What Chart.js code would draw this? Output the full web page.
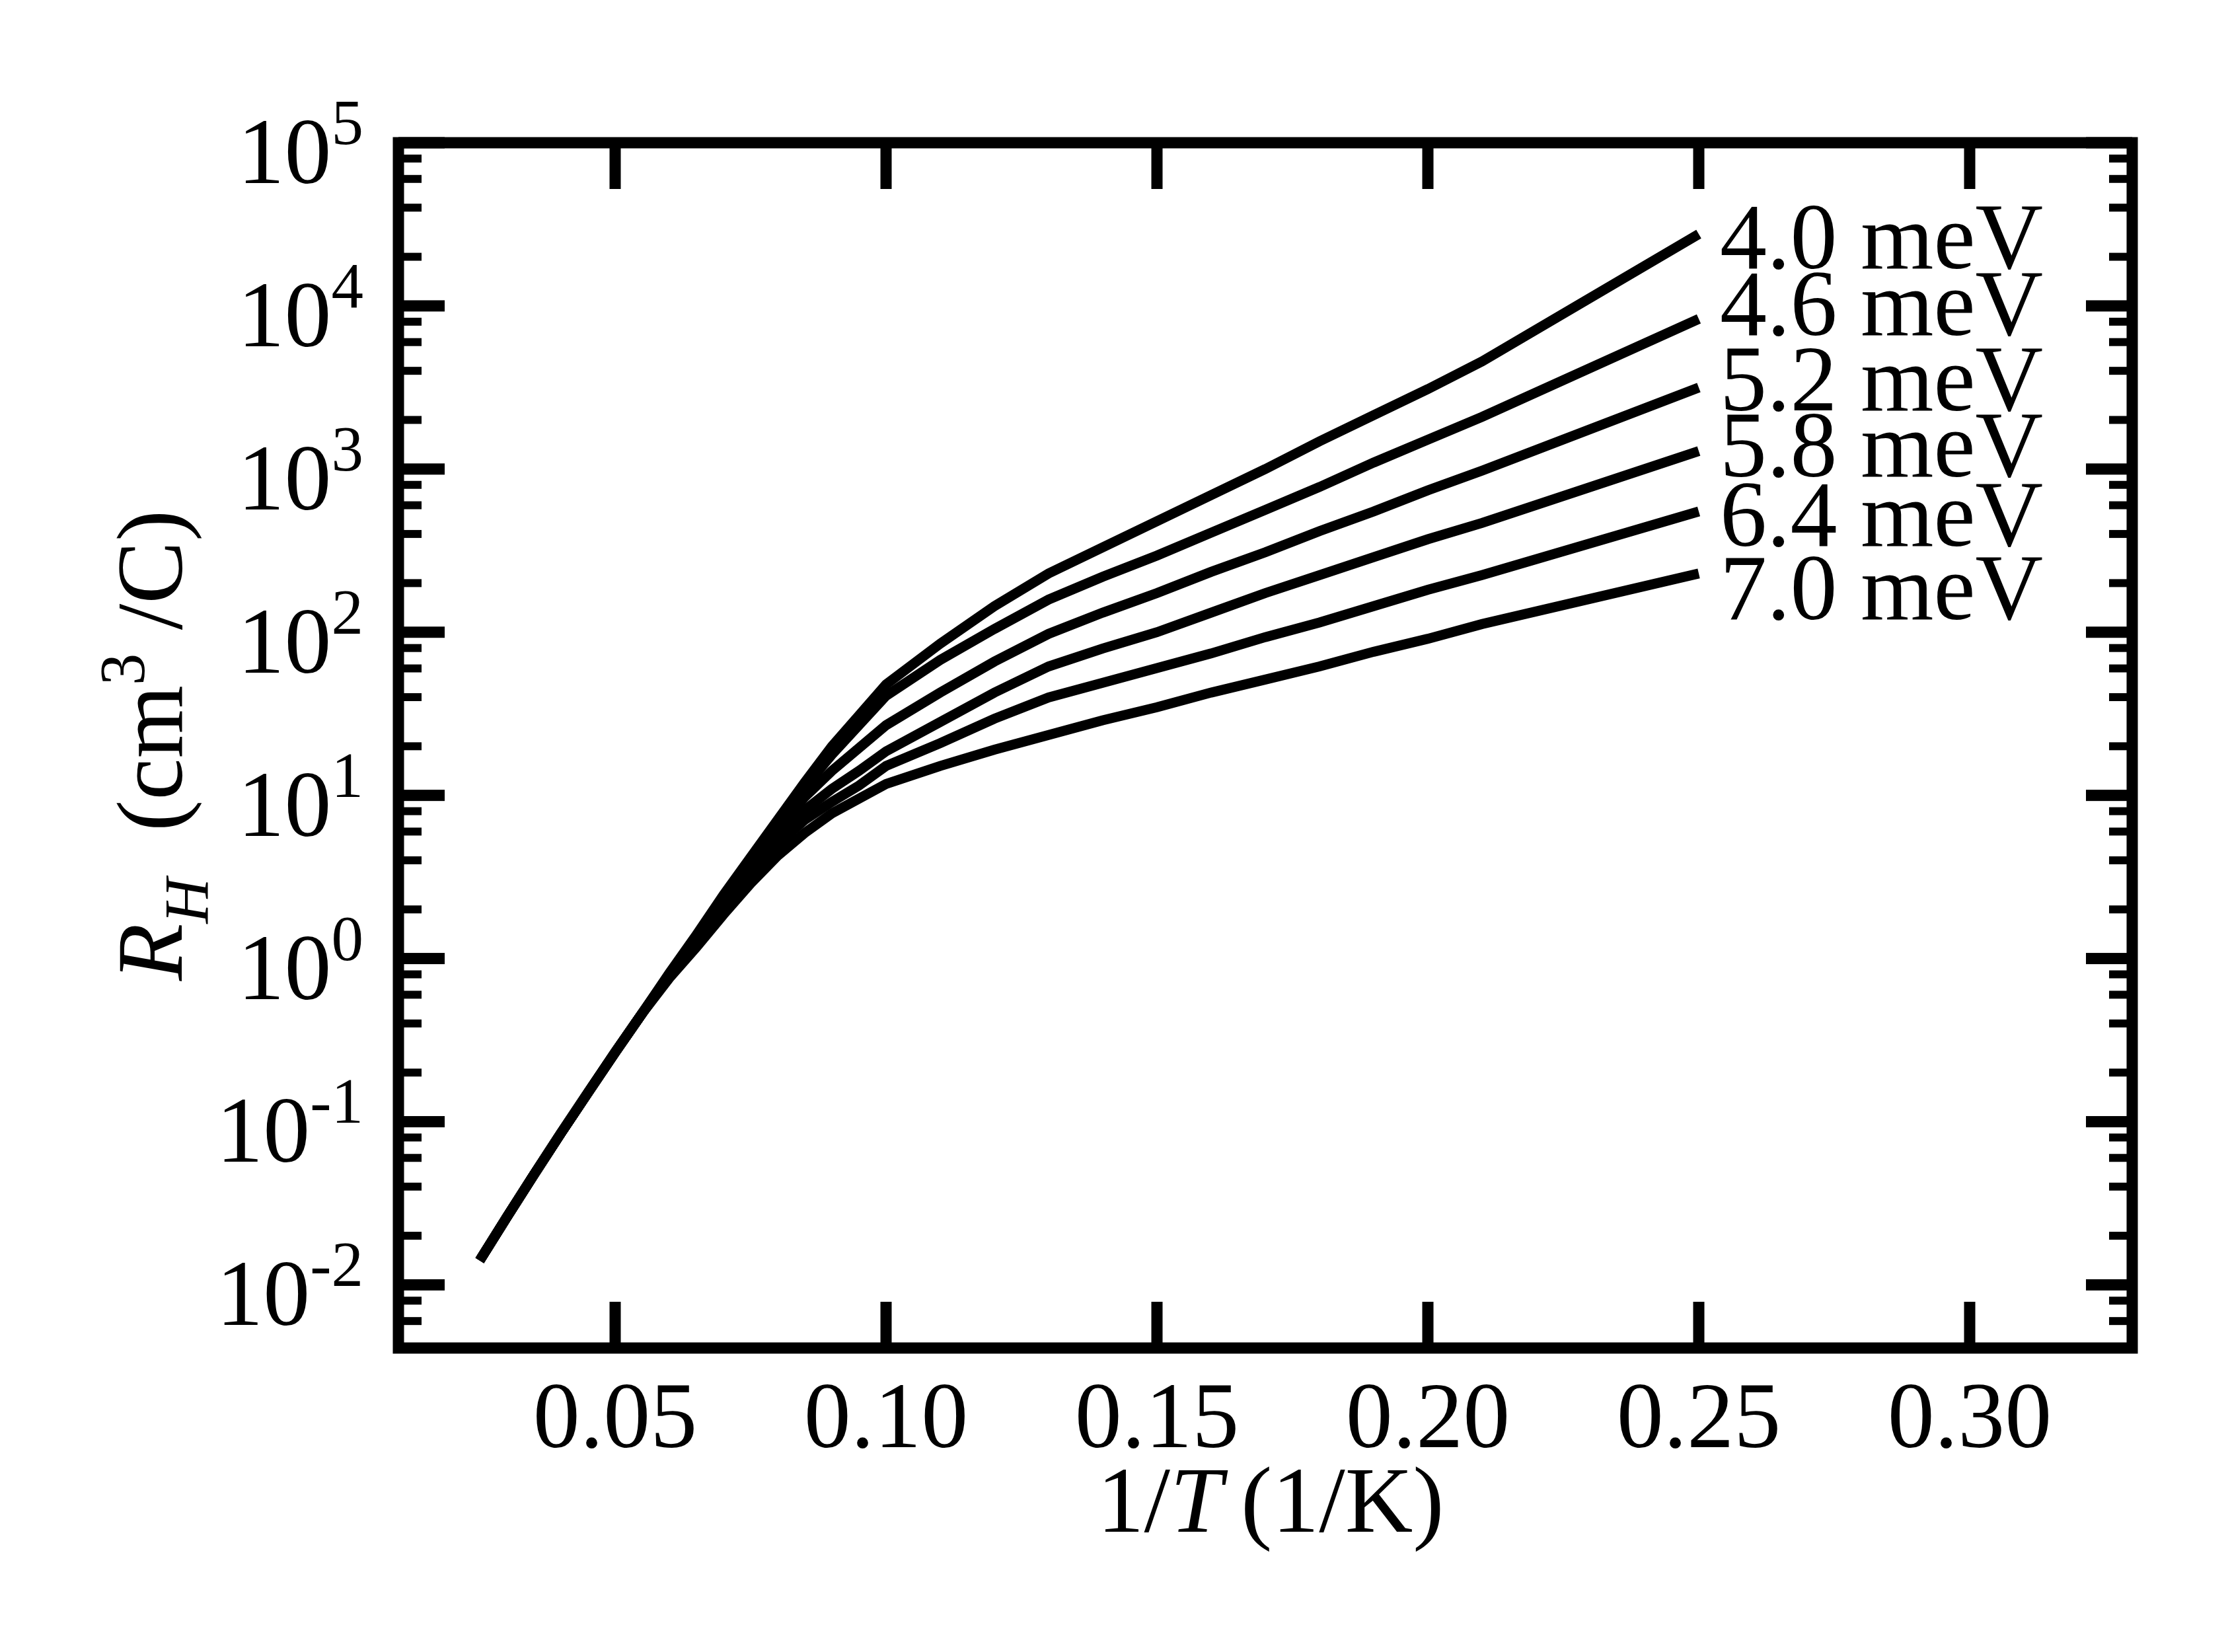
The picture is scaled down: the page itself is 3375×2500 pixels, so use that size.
<!DOCTYPE html>
<html>
<head>
<meta charset="utf-8">
<script src="https://cdn.jsdelivr.net/npm/chart.js@4.4.1/dist/chart.umd.min.js"></script>
<style>
  html, body { margin: 0; padding: 0; background: #fff; }
  #wrap { width: 3375px; height: 2500px; }
</style>
</head>
<body>
<div id="wrap"><canvas id="graficoHall"></canvas></div>
<script>
// 1/T (1/K) sampling points
const invT = [0.025, 0.03, 0.035, 0.04, 0.045, 0.05, 0.055, 0.06, 0.065, 0.07, 0.075, 0.08, 0.085, 0.09, 0.095, 0.10,
              0.11, 0.12, 0.13, 0.14, 0.15, 0.16, 0.17, 0.18, 0.19, 0.20, 0.21, 0.25];

// R_H (cm^3/C) for each activation energy
const rh40 = [0.0141, 0.0260, 0.0473, 0.0851, 0.151, 0.266, 0.462, 0.813, 1.396, 2.455, 4.169, 7.079, 12.02, 19.95, 30.90, 47.86,
              85.11, 144.5, 229.1, 331.1, 478.6, 691.8, 1000, 1479, 2138, 3090, 4571, 27540];
const rh46 = [0.0141, 0.0260, 0.0473, 0.0851, 0.151, 0.266, 0.462, 0.804, 1.380, 2.399, 4.074, 6.761, 11.22, 17.78, 26.92, 40.74,
              67.61, 104.7, 158.5, 218.8, 295.1, 407.4, 562.3, 776.2, 1096, 1514, 2089, 8318];
const rh52 = [0.0141, 0.0260, 0.0473, 0.0851, 0.151, 0.266, 0.462, 0.794, 1.349, 2.344, 3.890, 6.310, 9.772, 14.13, 19.50, 26.92,
              42.66, 66.07, 97.72, 131.8, 173.8, 234.4, 309.0, 416.9, 549.5, 741.3, 977.2, 3162];
const rh58 = [0.0141, 0.0260, 0.0473, 0.0851, 0.151, 0.266, 0.462, 0.780, 1.303, 2.239, 3.631, 5.623, 8.128, 10.96, 14.13, 18.62,
              28.18, 42.66, 61.66, 79.43, 100.0, 131.8, 173.8, 223.9, 288.4, 371.5, 467.7, 1288];
const rh64 = [0.0141, 0.0260, 0.0473, 0.0851, 0.151, 0.266, 0.462, 0.770, 1.230, 2.089, 3.311, 5.012, 7.079, 9.120, 11.48, 15.14,
              20.89, 29.51, 39.81, 48.98, 60.26, 74.13, 93.33, 114.8, 144.5, 182.0, 223.9, 549.5];
const rh70 = [0.0141, 0.0260, 0.0473, 0.0851, 0.151, 0.266, 0.462, 0.759, 1.175, 1.862, 2.884, 4.266, 5.888, 7.762, 9.550, 11.75,
              15.14, 19.05, 23.44, 28.84, 34.67, 42.66, 51.29, 61.66, 75.86, 91.20, 112.2, 229.1];

const series = [rh40, rh46, rh52, rh58, rh64, rh70];
const energyLabels = ['4.0 meV', '4.6 meV', '5.2 meV', '5.8 meV', '6.4 meV', '7.0 meV'];
// R_H level where each label's baseline sits
const labelAnchor = [17000, 6600, 2300, 900, 340, 120];

const xTicks = [0.05, 0.10, 0.15, 0.20, 0.25, 0.30];
const xTickLabels = ['0.05', '0.10', '0.15', '0.20', '0.25', '0.30'];
const yExponents = [-2, -1, 0, 1, 2, 3, 4, 5];
const minorMult = [2, 4, 6, 8];

const SERIF = '"Liberation Serif", "Times New Roman", serif';

const molduraPlugin = {
    id: 'moldura',
    afterDraw(chart) {
        const { ctx, chartArea: a, scales: { x, y } } = chart;
        ctx.save();
        ctx.fillStyle = '#000';
        ctx.strokeStyle = '#000';

        // frame
        ctx.lineWidth = 17;
        ctx.lineJoin = 'miter';
        ctx.strokeRect(a.left, a.top, a.right - a.left, a.bottom - a.top);

        // x ticks, top and bottom, pointing inward
        xTicks.forEach(v => {
            const px = x.getPixelForValue(v);
            ctx.fillRect(px - 8.5, a.top, 17, 70);
            ctx.fillRect(px - 8.5, a.bottom - 70, 17, 70);
        });

        // y major ticks
        yExponents.forEach(e => {
            const py = y.getPixelForValue(Math.pow(10, e));
            ctx.fillRect(a.left, py - 8.5, 70, 17);
            ctx.fillRect(a.right - 70, py - 8.5, 70, 17);
        });
        // y minor ticks
        for (let e = -3; e <= 4; e++) {
            minorMult.forEach(m => {
                const val = m * Math.pow(10, e);
                if (val < y.min || val > y.max) return;
                const py = y.getPixelForValue(val);
                ctx.fillRect(a.left, py - 6, 35, 12);
                ctx.fillRect(a.right - 35, py - 6, 35, 12);
            });
        }

        // x tick labels
        ctx.font = '142px ' + SERIF;
        ctx.textAlign = 'center';
        ctx.textBaseline = 'alphabetic';
        xTicks.forEach((v, i) => {
            ctx.fillText(xTickLabels[i], x.getPixelForValue(v), a.bottom + 150);
        });

        // y tick labels: 10 with superscript exponent
        const rightEdge = a.left - 53;
        yExponents.forEach(e => {
            const py = y.getPixelForValue(Math.pow(10, e));
            const exp = String(e);
            ctx.font = '97px ' + SERIF;
            ctx.textAlign = 'right';
            const expW = ctx.measureText(exp).width;
            ctx.fillText(exp, rightEdge, py + 2);
            ctx.font = '142px ' + SERIF;
            ctx.fillText('10', rightEdge - expW, py + 61);
        });

        // energy labels at the right end of the curves
        ctx.font = '142px ' + SERIF;
        ctx.textAlign = 'left';
        const lx = x.getPixelForValue(invT[invT.length - 1]) + 32;
        energyLabels.forEach((t, i) => {
            ctx.fillText(t, lx, y.getPixelForValue(labelAnchor[i]));
        });

        // x axis title: 1/T (1/K)
        const xParts = [
            { t: '1/', f: '142px ' + SERIF, gap: 0 },
            { t: 'T', f: 'italic 142px ' + SERIF, gap: 28 },
            { t: '(1/K)', f: '142px ' + SERIF, gap: 0 }
        ];
        let total = 0;
        xParts.forEach(p => { ctx.font = p.f; p.w = ctx.measureText(p.t).width; total += p.w + p.gap; });
        let cx = (a.left + a.right) / 2 + 8 - total / 2;
        const xBase = a.bottom + 278;
        ctx.textAlign = 'left';
        xParts.forEach(p => { ctx.font = p.f; ctx.fillText(p.t, cx, xBase); cx += p.w + p.gap; });

        // y axis title: R_H (cm^3 /C), rotated
        const yParts = [
            { t: 'R', f: 'italic 142px ' + SERIF, dy: 0 },
            { t: 'H', f: 'italic 95px ' + SERIF, dy: 40 },
            { t: '  (cm', f: '142px ' + SERIF, dy: 0 },
            { t: '3', f: '97px ' + SERIF, dy: -57 },
            { t: ' /C)', f: '142px ' + SERIF, dy: 0 }
        ];
        let ytotal = 0;
        yParts.forEach(p => { ctx.font = p.f; p.w = ctx.measureText(p.t).width; ytotal += p.w; });
        ctx.translate(275, (a.top + a.bottom) / 2);
        ctx.rotate(-Math.PI / 2);
        let cy = -ytotal / 2;
        yParts.forEach(p => { ctx.font = p.f; ctx.fillText(p.t, cy, p.dy); cy += p.w; });

        ctx.restore();
    }
};

const ctx = document.getElementById('graficoHall').getContext('2d');

const graficoHall = new Chart(ctx, {
    type: 'line',
    data: {
        datasets: series.map((vals, i) => ({
            label: energyLabels[i],
            data: invT.map((v, j) => ({ x: v, y: vals[j] })),
            borderColor: '#000',
            borderWidth: 15,
            pointRadius: 0,
            tension: 0,
            fill: false
        }))
    },
    options: {
        responsive: true,
        maintainAspectRatio: false,
        animation: false,
        devicePixelRatio: 1,
        layout: { padding: { left: 603, right: 148, top: 216, bottom: 460 } },
        scales: {
            x: { type: 'linear', min: 0.01, max: 0.33, display: false },
            y: { type: 'logarithmic', min: 0.0041, max: 100000, display: false }
        },
        plugins: {
            legend: { display: false },
            tooltip: { enabled: false }
        }
    },
    plugins: [molduraPlugin]
});
</script>
</body>
</html>
